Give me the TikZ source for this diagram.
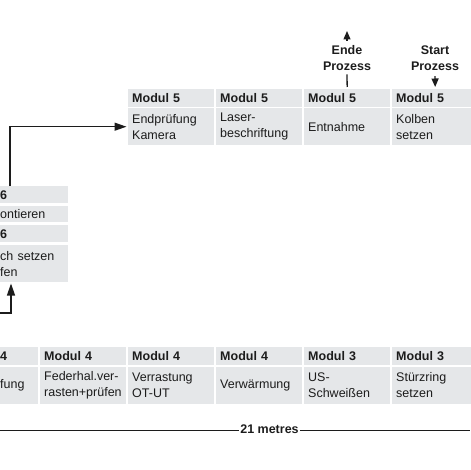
\documentclass[tikz,border=0pt]{standalone}
\usepackage{fontspec}
\setmainfont{Liberation Sans}
\usetikzlibrary{arrows.meta}
\definecolor{cellgray}{HTML}{E5E7E9}
\definecolor{ink}{HTML}{1C1C1C}
\begin{document}
\begin{tikzpicture}[x=1pt,y=-1pt,
  every node/.style={font=\fontsize{12.5}{16}\selectfont, text=ink},
  cell/.style={rectangle, fill=cellgray, anchor=north west, inner xsep=4pt, inner ysep=0pt,
    text width=78pt, align=left, minimum width=86pt},
  head/.style={cell, minimum height=17.5pt, font=\fontsize{12.5}{16}\selectfont\bfseries},
  body/.style={cell, minimum height=37pt},
  cut/.style={inner xsep=0pt, text width=68pt, minimum width=68pt},
  cutb/.style={inner xsep=0pt, text width=38pt, minimum width=38pt},
  proc/.style={align=center, inner ysep=3pt, inner xsep=1pt, font=\fontsize{12.5}{16}\selectfont\bfseries},
  conn/.style={draw=ink, line width=1.3pt, -{Triangle[length=12pt,width=8pt]}},
  pconn/.style={draw=ink, line width=1.3pt, -{Triangle[length=8.5pt,width=7pt]}},
  pline/.style={draw=ink, line width=1.3pt},
  metre/.style={inner xsep=1pt, inner ysep=0pt, font=\fontsize{12.5}{16}\selectfont\bfseries}
]
\path[use as bounding box] (0,0) rectangle (470,470);

% top row
\node[head] (t1h) at (128,89) {Modul 5};
\node[body] (t1)  at (128,108) {Endprüfung\\Kamera};
\node[head] (t2h) at (216,89) {Modul 5};
\node[body] (t2)  at (216,108) {Laser-\\beschriftung};
\node[head] (t3h) at (304,89) {Modul 5};
\node[body] (t3)  at (304,108) {Entnahme};
\node[head] (t4h) at (392,89) {Modul 5};
\node[body] (t4)  at (392,108) {Kolben\\setzen};

% process start / end
\node[proc] (ende)  at (347,58.5) {Ende\\Prozess};
\node[proc] (start) at (435,58.5) {Start\\Prozess};
\coordinate (endtip) at (347,31);
\draw[pline, shorten <=2pt] (t3h.north) -- (ende.south);
\draw[pconn, shorten <=2pt] (ende.north) -- (endtip);
\draw[pconn, shorten <=2pt, shorten >=2pt] (start.south) -- (t4h.north);

% Modul 6 block (cut at left edge)
\node[head, cut, minimum height=17pt] (m6a) at (0,186) {6};
\node[body, cut, minimum height=16.5pt] (m6b) at (0,205.5) {ontieren};
\node[head, cut, minimum height=17pt] (m6c) at (0,225) {6};
\node[body, cut, minimum height=37pt] (m6d) at (0,245) {ch setzen\\fen};

% bottom row
\node[head, cutb] (b0h) at (0,347) {4};
\node[body, cutb] (b0)  at (0,366.5) {fung};
\node[head] (b1h) at (40,347) {Modul 4};
\node[body] (b1)  at (40,366.5) {Federhal.ver-\\rasten+prüfen};
\node[head] (b2h) at (128,347) {Modul 4};
\node[body] (b2)  at (128,366.5) {Verrastung\\OT-UT};
\node[head] (b3h) at (216,347) {Modul 4};
\node[body] (b3)  at (216,366.5) {Verwärmung};
\node[head] (b4h) at (304,347) {Modul 3};
\node[body] (b4)  at (304,366.5) {US-\\Schweißen};
\node[head] (b5h) at (392,347) {Modul 3};
\node[body] (b5)  at (392,366.5) {Stürzring\\setzen};

% connectors
\coordinate (up1) at (10,186);
\draw[conn, shorten >=1.5pt] (up1) |- (t1.west);
\coordinate (in6) at (0,313);
\coordinate (dn1) at (11,282);
\draw[conn, shorten >=1.5pt] (in6) -| (dn1);

% 21 metres
\coordinate (ml) at (0,430.7);
\coordinate (mr) at (470,430.7);
\node[metre] (m21) at (269.5,428.8) {21 metres};
\draw[pline] (ml) -- (m21.west |- ml);
\draw[pline] (m21.east |- mr) -- (mr);
\end{tikzpicture}
\end{document}
